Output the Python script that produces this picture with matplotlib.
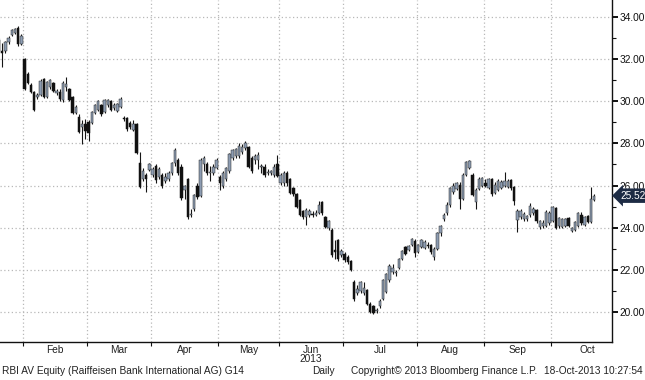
import matplotlib
matplotlib.use('Agg')
import matplotlib.pyplot as plt
import numpy as np

plt.rcParams['font.family'] = ['Liberation Sans', 'DejaVu Sans']
plt.rcParams['font.size'] = 7

# ---------------- data ----------------
months = ['Feb', 'Mar', 'Apr', 'May', 'Jun', 'Jul', 'Aug', 'Sep', 'Oct']
# trading days shown per month: Jan (partial), Feb .. Oct (partial)
month_days = [8, 20, 20, 21, 19, 20, 23, 21, 21, 14]
year_label = '2013'
last_price = 25.52

opens = [
    # Jan
    32.9, 32.4, 32.4, 32.8, 33.15, 33.25, 33.5, 32.7,
    # Feb
    32.0, 31.3, 30.75, 30.45, 30.2, 30.3, 31.05, 30.2, 30.7, 30.85,
    30.4, 30.45, 30.05, 30.7, 30.6, 30.2, 29.45, 29.25, 28.8, 28.9,
    # Mar
    29.0, 28.95, 29.45, 29.6, 29.8, 29.5, 29.8, 30.0, 29.7, 29.55,
    29.75, 29.2, 29.2, 28.95, 28.65, 28.9, 27.05, 26.3, 26.5, 26.75,
    # Apr
    26.5, 26.95, 26.4, 26.5, 26.2, 26.3, 26.6, 27.05, 27.2, 26.9,
    25.8, 26.3, 24.6, 24.9, 26.0, 25.5, 27.0, 27.0, 26.6, 26.6, 26.85,
    # May
    26.4, 26.0, 26.3, 26.7, 27.3, 27.4, 27.4, 27.6, 27.8, 27.85,
    27.3, 27.2, 27.2, 26.9, 26.9, 26.6, 26.6, 26.5, 27.0,
    # Jun
    26.1, 26.1, 26.6, 26.3, 25.9, 25.6, 25.3, 24.8, 24.5, 24.6,
    24.65, 24.6, 24.7, 25.2, 24.5, 24.0, 23.9, 22.95, 23.4, 22.7,
    # Jul
    22.75, 22.6, 22.4, 21.4, 20.9, 21.0, 20.9, 21.05, 20.4, 20.3,
    20.05, 20.3, 20.6, 20.95, 21.5, 21.9, 21.85, 22.1, 22.5, 23.1,
    22.95, 23.2, 23.35,
    # Aug
    22.85, 23.1, 23.05, 23.2, 23.2, 22.6, 23.0, 23.75, 24.4, 24.7,
    25.1, 25.7, 25.85, 26.05, 25.35, 26.5, 26.85, 26.5, 25.2, 25.85, 26.0,
    # Sep
    26.1, 25.9, 26.3, 25.65, 25.8, 25.9, 26.0, 25.95, 26.25, 25.95,
    24.35, 24.5, 24.4, 24.4, 24.6, 24.7, 24.85, 24.05, 24.1, 24.1, 24.2,
    # Oct
    24.3, 24.95, 24.1, 24.05, 24.1, 24.45, 23.85, 23.9, 24.1, 24.6,
    24.15, 24.55, 24.25, 25.3,
]
highs = [
    33.0, 32.75, 32.85, 33.1, 33.45, 33.5, 33.55, 33.2,
    32.05, 31.4, 30.85, 30.5, 30.4, 31.05, 31.1, 30.95, 31.05, 30.9,
    30.6, 30.6, 30.95, 31.15, 30.65, 30.25, 29.8, 29.4, 29.1, 29.15,
    29.1, 29.55, 29.85, 30.05, 29.85, 30.1, 30.1, 30.05, 29.9, 29.9,
    30.2, 29.3, 29.25, 29.05, 29.1, 28.95, 27.6, 26.85, 26.6, 27.05,
    26.9, 27.0, 26.9, 26.6, 26.6, 26.7, 27.1, 27.8, 27.3, 27.0,
    26.05, 26.35, 24.9, 25.6, 26.1, 27.3, 27.4, 27.1, 26.95, 27.0, 27.3,
    26.5, 26.7, 26.9, 27.55, 27.75, 27.8, 28.0, 27.95, 28.1, 27.9,
    27.4, 27.5, 27.6, 27.0, 27.0, 26.8, 26.75, 27.0, 27.45,
    26.6, 26.7, 26.7, 26.35, 25.95, 25.65, 25.35, 24.85, 24.95, 24.9,
    24.8, 24.85, 25.25, 25.25, 24.55, 24.35, 24.0, 23.4, 23.45, 23.0,
    22.85, 22.7, 22.45, 21.5, 21.3, 21.45, 21.4, 21.1, 20.45, 20.35,
    20.2, 20.6, 21.55, 21.85, 22.3, 22.3, 22.0, 22.55, 22.95, 23.15,
    23.2, 23.5, 23.45,
    23.25, 23.45, 23.4, 23.3, 23.25, 23.1, 23.8, 24.15, 24.7, 25.2,
    25.95, 26.1, 26.15, 26.15, 26.6, 27.15, 27.2, 26.6, 25.9, 26.4, 26.4,
    26.3, 26.35, 26.35, 26.15, 26.3, 26.25, 26.65, 26.3, 26.3, 26.0,
    24.9, 24.9, 24.75, 24.6, 25.15, 25.0, 24.9, 24.35, 24.35, 24.85, 24.8,
    25.05, 25.0, 24.5, 24.45, 24.45, 24.5, 24.05, 24.3, 24.75, 24.75,
    24.55, 24.6, 25.95, 25.6,
]
lows = [
    32.3, 31.65, 32.3, 32.7, 33.1, 33.2, 32.6, 32.65,
    30.55, 30.8, 30.4, 29.55, 30.1, 30.25, 30.15, 30.15, 30.6, 30.45,
    30.3, 30.0, 29.95, 30.5, 30.0, 29.4, 29.4, 28.5, 27.95, 28.2,
    28.1, 28.9, 29.4, 29.55, 29.3, 29.45, 29.75, 29.55, 29.6, 29.5,
    29.7, 29.05, 28.6, 28.7, 28.6, 27.5, 25.9, 26.2, 25.7, 26.7,
    26.4, 26.1, 26.3, 25.9, 26.1, 26.2, 26.5, 26.95, 26.5, 25.3,
    25.35, 24.4, 24.5, 24.8, 25.35, 25.45, 26.7, 26.5, 26.2, 26.5, 26.8,
    25.8, 25.9, 26.2, 26.6, 27.2, 27.3, 27.3, 27.5, 27.7, 26.85,
    26.6, 27.0, 26.8, 26.6, 26.4, 26.5, 26.5, 26.4, 26.4,
    26.05, 26.0, 26.0, 25.6, 25.5, 24.95, 24.55, 24.4, 24.15, 24.5,
    24.5, 24.55, 24.65, 24.6, 24.0, 23.9, 22.6, 22.5, 22.4, 22.6,
    22.35, 22.3, 21.95, 20.5, 20.8, 20.9, 20.8, 20.35, 19.95, 19.9,
    19.95, 20.2, 20.55, 20.9, 21.4, 21.8, 21.7, 22.05, 22.45, 22.7,
    22.9, 23.15, 22.6,
    22.8, 23.05, 23.0, 23.05, 22.75, 22.45, 22.95, 23.6, 24.3, 24.6,
    25.0, 25.6, 25.8, 24.9, 25.3, 26.45, 26.8, 25.5, 24.9, 25.8, 25.95,
    25.95, 25.85, 25.5, 25.6, 25.75, 25.85, 25.95, 25.9, 25.8, 25.1,
    23.8, 24.4, 24.3, 24.3, 24.5, 24.6, 24.2, 23.95, 24.0, 24.05, 24.15,
    24.25, 23.95, 24.0, 24.0, 24.05, 24.05, 23.8, 23.85, 24.05, 24.15,
    24.1, 24.2, 24.2, 25.25,
]
closes = [
    32.4, 32.3, 32.8, 33.0, 33.4, 33.45, 32.7, 33.1,
    30.6, 30.85, 30.45, 29.6, 30.3, 30.95, 30.2, 30.9, 31.0, 30.5,
    30.5, 30.1, 30.85, 30.8, 30.05, 29.45, 29.75, 28.55, 28.9, 28.6,
    28.5, 29.5, 29.8, 30.0, 29.4, 30.05, 30.05, 29.6, 29.8, 29.85,
    30.1, 29.15, 28.7, 28.8, 28.9, 27.55, 25.95, 26.7, 26.3, 27.0,
    26.8, 26.25, 26.8, 26.0, 26.4, 26.6, 27.05, 27.7, 26.6, 25.4,
    26.0, 24.5, 24.65, 25.55, 25.45, 27.2, 27.3, 26.6, 26.65, 26.9, 27.2,
    26.1, 26.6, 26.85, 27.5, 27.7, 27.75, 27.9, 27.85, 28.0, 26.9,
    26.7, 27.4, 27.45, 26.95, 26.5, 26.65, 26.7, 26.9, 26.45,
    26.5, 26.6, 26.1, 25.65, 25.6, 25.0, 24.6, 24.5, 24.85, 24.8,
    24.6, 24.7, 25.1, 24.7, 24.05, 24.3, 22.7, 22.85, 22.5, 22.9,
    22.45, 22.35, 22.0, 20.6, 21.1, 21.4, 21.15, 20.4, 20.0, 19.95,
    20.1, 20.5, 21.5, 21.8, 22.2, 22.1, 21.9, 22.5, 22.9, 22.75,
    23.15, 23.45, 22.8,
    23.2, 23.4, 23.3, 23.15, 22.85, 23.0, 23.75, 24.1, 24.6, 25.1,
    25.9, 26.0, 26.1, 25.35, 26.5, 27.1, 27.15, 25.55, 25.8, 26.3, 26.35,
    26.0, 26.3, 25.6, 26.05, 26.2, 26.15, 26.2, 26.2, 25.9, 25.25,
    24.8, 24.8, 24.65, 24.55, 25.05, 24.9, 24.3, 24.3, 24.2, 24.75, 24.7,
    25.0, 24.0, 24.45, 24.4, 24.4, 24.1, 24.0, 24.25, 24.7, 24.2,
    24.5, 24.25, 25.35, 25.52,
]

# ---------------- figure ----------------
W, H = 645, 380
fig = plt.figure(figsize=(W / 100, H / 100), dpi=100)
ax = fig.add_axes([0, 38 / H, 612 / W, 342 / H])

o = np.array(opens)
h = np.array(highs)
l = np.array(lows)
c = np.array(closes)
x = np.arange(len(c))
up = c >= o

ax.vlines(x, l, h, color='#151515', lw=0.8, zorder=3)
body_bot = np.minimum(o, c)
body_h = np.maximum(np.abs(c - o), 0.05)
ax.bar(x[up], body_h[up], bottom=body_bot[up], width=0.7,
       color='#8d9cb2', edgecolor='#2a2a2a', linewidth=0.35, zorder=4)
ax.bar(x[~up], body_h[~up], bottom=body_bot[~up], width=0.7,
       color='#111111', edgecolor='#111111', linewidth=0.35, zorder=4)

# month boundaries
bounds = np.cumsum(month_days)[:-1] - 0.5
x0 = bounds[0] - 23 / 3.2
ax.set_xlim(x0, x0 + 612 / 3.2)
ax.set_ylim(34 - 325 / 21.07, 34 + 17 / 21.07)

ax.set_xticks(bounds)
ax.set_xticklabels([])
ax.set_yticks(np.arange(20, 35, 2))
ax.set_yticks(np.arange(21, 35, 2), minor=True)
ax.yaxis.tick_right()
ax.set_yticklabels([f'{v:.2f}' for v in np.arange(20, 35, 2)])
ax.tick_params(axis='y', which='major', direction='out', length=4, width=1.4,
               colors='#111111', labelsize=7.3, pad=1.5)
ax.tick_params(axis='y', which='minor', direction='out', length=3, width=0.8,
               colors='#111111')
ax.tick_params(axis='x', which='major', direction='out', length=3, width=0.8,
               colors='#111111')

ax.grid(True, which='major', color='#b8b8b8', linestyle=(0, (1, 2)), lw=0.9)
ax.set_axisbelow(True)
for s in ['left', 'top']:
    ax.spines[s].set_visible(False)
for s in ['right', 'bottom']:
    ax.spines[s].set_color('#111111')
    ax.spines[s].set_linewidth(1.0)

# month labels
trans = ax.get_xaxis_transform()
for k, name in enumerate(months):
    left_b = bounds[k]
    if k + 1 < len(bounds):
        mid = (left_b + bounds[k + 1]) / 2
    else:
        mid = left_b + 11.5
    ax.text(mid, -8 / 342, name, transform=trans, ha='center', va='center',
            fontsize=7.3, color='#222222')
    if name == 'Jun':
        ax.text(mid, -17 / 342, year_label, transform=trans, ha='center',
                va='center', fontsize=7.3, color='#222222')

# last price tag
ax.text(1.013, last_price, f'{last_price:.2f}', transform=ax.get_yaxis_transform(),
        ha='left', va='center', color='white', fontsize=7.3, zorder=6,
        bbox=dict(boxstyle='larrow,pad=0.22', fc='#1d2b44', ec='none'))

# footer
fy = 1 - 371 / H
fig.text(2 / W, fy, 'RBI AV Equity (Raiffeisen Bank International AG) G14',
         ha='left', va='center', fontsize=7.3, color='#222222')
fig.text(312 / W, fy, 'Daily', ha='left', va='center', fontsize=7.3, color='#222222')
fig.text(351 / W, fy, 'Copyright\u00a9 2013 Bloomberg Finance L.P.', ha='left',
         va='center', fontsize=7.3, color='#222222')
fig.text(643 / W, fy, '18-Oct-2013 10:27:54', ha='right', va='center',
         fontsize=7.3, color='#222222')

fig.savefig('out.png', dpi=100)
